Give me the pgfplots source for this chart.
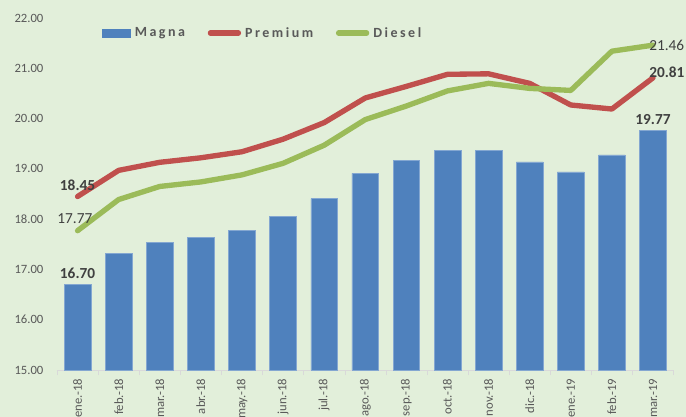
\documentclass[border=0pt]{standalone}
\usepackage{pgfplots}
\pgfplotsset{compat=1.18}
\usepackage{fontspec}
\setmainfont{Carlito}
\definecolor{bg}{HTML}{E2EFDA}
\definecolor{magna}{HTML}{4F81BD}
\definecolor{premium}{HTML}{C0504D}
\definecolor{diesel}{HTML}{9BBB59}
\definecolor{txt}{HTML}{595959}
\definecolor{lbl}{HTML}{404040}

% precios promedio por mes
\pgfplotstableread{
x magna premium diesel
0  16.70 18.45 17.77
1  17.32 18.97 18.39
2  17.54 19.13 18.65
3  17.64 19.22 18.74
4  17.78 19.34 18.88
5  18.05 19.59 19.11
6  18.41 19.92 19.47
7  18.91 20.41 19.98
8  19.17 20.64 20.25
9  19.36 20.88 20.55
10 19.36 20.89 20.70
11 19.14 20.70 20.60
12 18.94 20.27 20.56
13 19.28 20.19 21.34
14 19.77 20.81 21.46
}\precios

\begin{document}
\begin{tikzpicture}
\fill[bg] (-42.75pt,-35.25pt) rectangle (471.75pt,277.5pt);
\begin{axis}[
    at={(0,0)}, anchor=south west,
    scale only axis,
    width=462.4pt, height=264pt,
    xmin=-0.5, xmax=14.5,
    ymin=15, ymax=22,
    ytick={15,16,...,22},
    xtick={0,...,14},
    xticklabels={ene.-18,feb.-18,mar.-18,abr.-18,may.-18,jun.-18,jul.-18,ago.-18,sep.-18,oct.-18,nov.-18,dic.-18,ene.-19,feb.-19,mar.-19},
    minor xtick={-0.5,0.5,...,14.5},
    major tick length=0pt,
    minor tick length=4pt,
    tick align=outside,
    axis x line*=bottom,
    axis y line*=left,
    axis line style={-},
    x axis line style={draw=black!15},
    y axis line style={draw=none},
    minor x tick style={draw=black!15},
    ytick style={draw=none},
    yticklabel={\pgfmathprintnumber[fixed,fixed zerofill,precision=2]{\tick}},
    /pgf/number format/assume math mode=true,
    ticklabel style={font=\fontsize{9.5}{11}\selectfont, text=txt},
    xticklabel style={rotate=90, anchor=east, inner sep=0pt},
    xticklabel shift=6.5pt,
    yticklabel style={inner sep=0pt, xshift=-10pt},
    clip=false,
    legend columns=3,
    legend style={draw=none, fill=none, at={(0.073,0.957)}, anchor=west,
        font=\fontsize{10.5}{12}\selectfont\bfseries\addfontfeature{LetterSpace=18},
        text=txt, inner sep=0pt,
        nodes={inner xsep=3pt, inner ysep=1pt},
        /tikz/every even column/.append style={column sep=14pt}},
]
\addplot[ybar, bar width=20pt, fill=magna, draw=magna!70!white,
    legend image code/.code={\fill[magna] (0pt,-3pt) rectangle (21pt,3pt);}]
    table[x=x, y=magna] {\precios};
\addlegendentry{Magna}
\addplot[premium, line width=4pt, line join=round, line cap=round,
    legend image code/.code={\draw[premium, line width=4pt, line cap=round] (1pt,0pt) -- (22pt,0pt);}]
    table[x=x, y=premium] {\precios};
\addlegendentry{Premium}
\addplot[diesel, line width=4pt, line join=round, line cap=round,
    legend image code/.code={\draw[diesel, line width=4pt, line cap=round] (1pt,0pt) -- (22pt,0pt);}]
    table[x=x, y=diesel] {\precios};
\addlegendentry{Diesel}

% etiquetas de datos
\addplot[draw=none, forget plot, nodes near coords, point meta=explicit symbolic,
    nodes near coords style={anchor=south, inner sep=0pt, yshift=4pt, text=lbl,
        font=\fontsize{11.5}{13}\selectfont\bfseries}]
    coordinates {(0,16.70)[16.70] (14,19.77)[19.77] (0,18.45)[18.45]};
\addplot[draw=none, forget plot, nodes near coords, point meta=explicit symbolic,
    nodes near coords style={anchor=south, inner sep=0pt, yshift=5pt, xshift=-2pt, text=lbl,
        font=\fontsize{11.5}{13}\selectfont}]
    coordinates {(0,17.77)[17.77]};
\addplot[draw=none, forget plot, nodes near coords, point meta=explicit symbolic,
    nodes near coords style={anchor=south west, inner sep=0pt, xshift=-3pt, yshift=0pt, text=lbl,
        font=\fontsize{11.5}{13}\selectfont\bfseries}]
    coordinates {(14,20.81)[20.81]};
\addplot[draw=none, forget plot, nodes near coords, point meta=explicit symbolic,
    nodes near coords style={anchor=west, inner sep=0pt, xshift=-3pt, text=lbl,
        font=\fontsize{11.5}{13}\selectfont}]
    coordinates {(14,21.46)[21.46]};
\end{axis}
\pgfresetboundingbox
\useasboundingbox (-42.75pt,-35.25pt) rectangle (471.75pt,277.5pt);
\end{tikzpicture}
\end{document}
